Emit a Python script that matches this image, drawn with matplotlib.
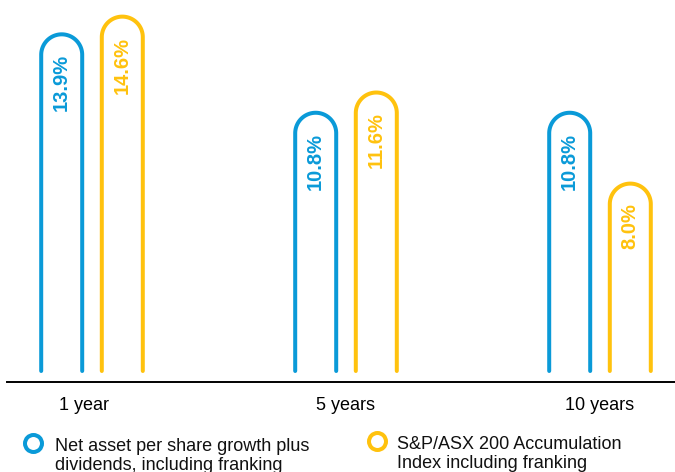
import numpy as np
import matplotlib
matplotlib.use("Agg")
import matplotlib.pyplot as plt
import matplotlib.transforms as mtransforms
from matplotlib.path import Path
from matplotlib.patches import PathPatch
from matplotlib.lines import Line2D

categories = ["1 year", "5 years", "10 years"]
nav_values = [13.9, 10.8, 10.8]
index_values = [14.6, 11.6, 8.0]
series_labels = ["Net asset per share growth plus\ndividends, including franking",
                 "S&P/ASX 200 Accumulation\nIndex including franking"]
value_labels_nav = ["13.9%", "10.8%", "10.8%"]
value_labels_idx = ["14.6%", "11.6%", "8.0%"]

BLUE = "#0A9AD8"
YELLOW = "#FFC20E"
FONT = ["Liberation Sans", "DejaVu Sans"]
plt.rcParams["font.family"] = FONT

W, H, DPI = 675, 472, 100
fig = plt.figure(figsize=(W / DPI, H / DPI), dpi=DPI)

base_px = 382  # baseline pixel from top
ax = fig.add_axes([0, (H - base_px) / H, 1, base_px / H])
px_per_y = 25.3
y0 = 4 / px_per_y
ax.set_ylim(y0, y0 + base_px / px_per_y)
px_per_x = 254.0
x_left = -92 / px_per_x
ax.set_xlim(x_left, x_left + W / px_per_x)

for s in ["top", "right", "left"]:
    ax.spines[s].set_visible(False)
ax.spines["bottom"].set_linewidth(1.4)
ax.spines["bottom"].set_color("black")
ax.spines["bottom"].set_bounds(x_left + 7 / px_per_x, x_left + W / px_per_x)
ax.set_yticks([])

offset = 30.3 / px_per_x
half_w = 20.5 / px_per_x
r_y = 20.5 / px_per_y
bar_bottom = 15 / px_per_y
lw = 4 * 72 / DPI


def arch(xc, top, color):
    theta = np.linspace(np.pi, 0, 60)
    xs = [xc - half_w] + list(xc + half_w * np.cos(theta)) + [xc + half_w]
    ys = [bar_bottom] + list(top - r_y + r_y * np.sin(theta)) + [bar_bottom]
    p = Path(np.column_stack([xs, ys]))
    patch = PathPatch(p, fill=False, edgecolor=color, linewidth=lw,
                      capstyle="round", joinstyle="round")
    ax.add_patch(patch)


x = np.arange(len(categories))
for i in range(len(categories)):
    for val, lab, dx, col in [(nav_values[i], value_labels_nav[i], -offset, BLUE),
                              (index_values[i], value_labels_idx[i], offset, YELLOW)]:
        arch(x[i] + dx, val, col)
        ax.text(x[i] + dx, val - 20 / px_per_y, lab, rotation=90, ha="center",
                va="top", color=col, fontsize=14.5, fontweight="bold")

ax.set_xticks(x)
ax.set_xticklabels(categories, fontsize=13)
ax.tick_params(axis="x", length=0, pad=11)
lbl0 = ax.get_xticklabels()[0]
lbl0.set_transform(lbl0.get_transform() +
                   mtransforms.ScaledTranslation(-8 / DPI, 0, fig.dpi_scale_trans))

# legend
line_px = 1.2 * 13 * DPI / 72
legend_items = [(33, 443, 55, BLUE, series_labels[0]),
                (377, 441, 397, YELLOW, series_labels[1])]
for cx, cy, tx, col, lab in legend_items:
    fig.add_artist(Line2D([cx / W], [1 - cy / H], marker="o", markersize=17 * 72 / DPI,
                          markerfacecolor="white", markeredgecolor=col,
                          markeredgewidth=4 * 72 / DPI, linestyle="none",
                          transform=fig.transFigure))
    fig.text(tx / W, 1 - (cy + 5.5 + line_px) / H, lab, ha="left", va="baseline",
             fontsize=13, color="#111111", linespacing=1.2)

fig.savefig("out.png", dpi=DPI)
